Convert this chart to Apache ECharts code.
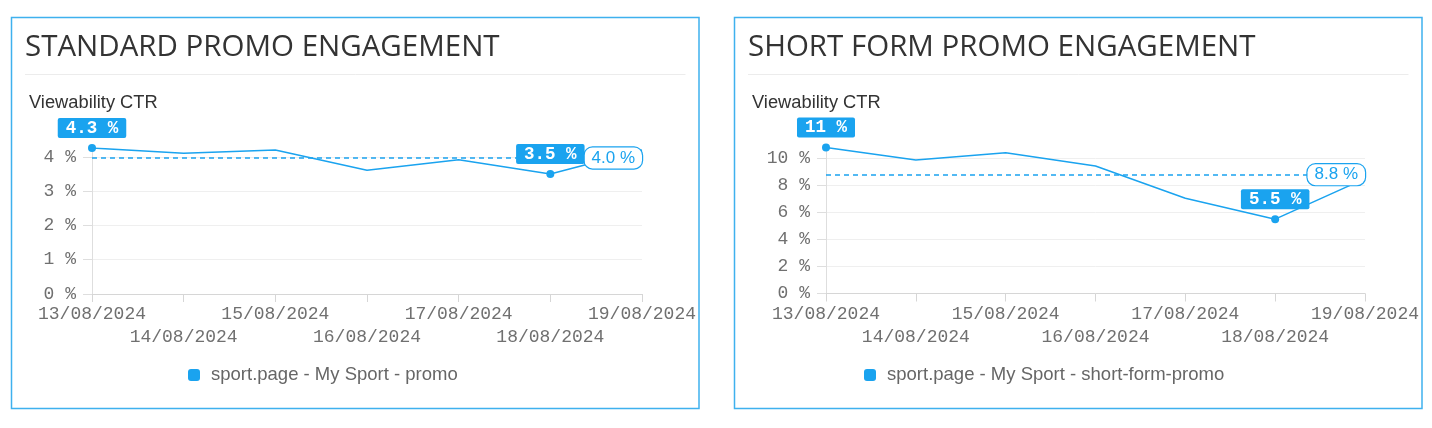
<!DOCTYPE html>
<html>
<head>
<meta charset="utf-8">
<script src="https://cdn.jsdelivr.net/npm/echarts@6/dist/echarts.min.js"></script>
<style>
html,body{margin:0;padding:0;background:#fff;}
#c{width:1432px;height:428px;}
</style>
</head>
<body>
<div id="c"></div>
<script>
const categories = ['13/08/2024','14/08/2024','15/08/2024','16/08/2024','17/08/2024','18/08/2024','19/08/2024'];
const standardCtr = [4.26, 4.11, 4.20, 3.61, 3.92, 3.50, 4.20];
const shortFormCtr = [10.8, 9.87, 10.41, 9.43, 7.04, 5.50, 8.50];
const panelTitles = ['STANDARD PROMO ENGAGEMENT', 'SHORT FORM PROMO ENGAGEMENT'];
const metricName = 'Viewability CTR';
const seriesNames = ['sport.page - My Sport - promo', 'sport.page - My Sport - short-form-promo'];
const yIntervals = [1, 2];

const BLUE = '#1aa3ef';
const MONO = '"Liberation Mono", "DejaVu Sans Mono", monospace';
const SANS = '"Liberation Sans", Arial, sans-serif';

const chart = echarts.init(document.getElementById('c'));

const panels = [
  {x: 11.5, w: 687.5, grid: {left: 92, top: 148, width: 550, height: 146}, legendLeft: 188, data: standardCtr},
  {x: 734.5, w: 687.5, grid: {left: 826, top: 147.5, width: 539, height: 146}, legendLeft: 864, data: shortFormCtr}
];

const option = {
  animation: false,
  title: [],
  legend: [],
  grid: [],
  xAxis: [],
  yAxis: [],
  series: [],
  graphic: []
};

panels.forEach((p, i) => {
  option.graphic.push({
    type: 'rect', shape: {x: p.x, y: 17.5, width: p.w, height: 391},
    style: {fill: 'none', stroke: '#3fb1ee', lineWidth: 1.5}, silent: true
  });
  option.graphic.push({
    type: 'line', shape: {x1: p.x + 13.5, y1: 74.5, x2: p.x + p.w - 13.5, y2: 74.5},
    style: {stroke: '#ececec', lineWidth: 1}, silent: true
  });
  option.title.push({
    text: panelTitles[i], left: p.x + 13.5, top: 32.5, padding: 0,
    textStyle: {fontFamily: '"Open Sans", sans-serif', fontSize: 29.5, fontWeight: 'normal', color: '#333'}
  });
  option.title.push({
    text: metricName, left: p.x + 17.5, top: 94, padding: 0,
    textStyle: {fontFamily: SANS, fontSize: 18.3, fontWeight: 'normal', color: '#333'}
  });
  option.legend.push({
    data: [seriesNames[i]], left: p.legendLeft, top: 365.5, padding: 0,
    itemWidth: 12, itemHeight: 12, icon: 'roundRect',
    textStyle: {fontFamily: SANS, fontSize: 18.5, color: '#666', padding: [0, 0, 0, 6]},
    selectedMode: false
  });
  option.grid.push(Object.assign({containLabel: false}, p.grid));
  option.xAxis.push({
    type: 'category', gridIndex: i, data: categories, boundaryGap: false,
    axisLine: {lineStyle: {color: '#d6d6d6'}},
    axisTick: {show: true, length: 8, lineStyle: {color: '#d6d6d6'}},
    axisLabel: {
      interval: 0, margin: 9, lineHeight: 23,
      fontFamily: MONO, fontSize: 18, color: '#707070',
      formatter: (v, idx) => (idx % 2 === 1 ? '\n' + v : v)
    }
  });
  option.yAxis.push({
    type: 'value', gridIndex: i, min: 0, max: 'dataMax', interval: yIntervals[i],
    axisLine: {show: true, lineStyle: {color: '#dedede'}},
    axisTick: {show: true, length: 9, lineStyle: {color: '#dedede'}},
    axisLabel: {
      margin: 16, showMaxLabel: false,
      fontFamily: MONO, fontSize: 18, color: '#707070',
      formatter: v => v + ' %'
    },
    splitLine: {show: true, showMaxLine: false, lineStyle: {color: '#efefef'}}
  });
  option.series.push({
    name: seriesNames[i], type: 'line', xAxisIndex: i, yAxisIndex: i,
    data: p.data, showSymbol: false, color: BLUE,
    lineStyle: {width: 1.5, color: BLUE},
    markPoint: {
      silent: true,
      symbol: 'circle', symbolSize: 8,
      itemStyle: {color: BLUE},
      data: [{type: 'max', name: 'max'}, {type: 'min', name: 'min'}],
      label: {
        show: true, position: 'top', distance: 6,
        formatter: prm => Number(prm.value).toPrecision(2) + ' %',
        backgroundColor: BLUE, color: '#fff', borderRadius: 2,
        padding: [2, 8, 1, 8], lineHeight: 17,
        fontFamily: MONO, fontSize: 17.5, fontWeight: 'bold'
      }
    },
    markLine: {
      silent: true, symbol: ['none', 'none'],
      lineStyle: {type: [5, 4], width: 1.5, color: BLUE},
      data: [{type: 'average', name: 'avg'}],
      label: {
        show: true, position: 'insideEnd', distance: 0,
        formatter: prm => Number(prm.value).toFixed(1) + ' %',
        backgroundColor: '#fff', borderColor: BLUE, borderWidth: 1.2, borderRadius: 8,
        padding: [3, 7, 2, 7], lineHeight: 16,
        color: BLUE, fontFamily: SANS, fontSize: 17
      }
    }
  });
});

chart.setOption(option);
</script>
</body>
</html>
